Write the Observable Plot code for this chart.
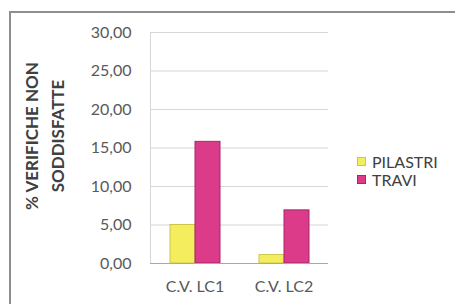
<!DOCTYPE html>
<html>
<head>
<meta charset="utf-8">
<script src="https://cdn.jsdelivr.net/npm/d3@7"></script>
<script src="https://cdn.jsdelivr.net/npm/@observablehq/plot@0.6"></script>
<style>
  html, body { margin: 0; padding: 0; background: #ffffff; }
  #wrap { position: relative; width: 455px; height: 304px; overflow: hidden; font-family: Lato, "Open Sans", sans-serif; }
  #border { position: absolute; left: 9px; top: 11px; width: 470px; height: 320px; border: 2px solid #8e8e8e; box-sizing: border-box; }
  #chart { position: absolute; left: 0; top: 0; }
  #ytitle { position: absolute; left: 45px; top: 136px; transform: translate(-50%, -50%) rotate(-90deg); white-space: nowrap;
            font-weight: bold; font-size: 17px; line-height: 26px; text-align: center; color: #404040; }
  #legend { position: absolute; left: 357px; top: 152px; font-size: 16px; color: #404040; }
  .item { display: flex; align-items: center; height: 18px; }
  .sw { width: 9px; height: 9px; margin-right: 6px; box-sizing: border-box; }
</style>
</head>
<body>
<div id="wrap">
  <div id="border"></div>
  <div id="chart"></div>
  <div id="ytitle">% VERIFICHE NON<br>SODDISFATTE</div>
  <div id="legend"></div>
</div>
<script>
const categories = ["C.V. LC1", "C.V. LC2"];
const series = ["PILASTRI", "TRAVI"];
const pilastri = [5.0, 1.1];
const travi = [15.8, 6.9];
const yTicks = [0, 5, 10, 15, 20, 25, 30];
const fills = ["#f4ed5e", "#dc3b8a"];
const strokes = ["#cdc64c", "#a5266b"];

const data = categories.flatMap((c, i) => [
  {cat: c, serie: series[0], value: pilastri[i]},
  {cat: c, serie: series[1], value: travi[i]}
]);

const fmt = d => d.toFixed(2).replace(".", ",");

const chart = Plot.plot({
  width: 455,
  height: 304,
  marginLeft: 150,
  marginRight: 127,
  marginTop: 32,
  marginBottom: 41,
  style: {fontFamily: "Lato, 'Open Sans', sans-serif", fontSize: "16px", color: "#595959", background: "transparent"},
  fx: {domain: categories, padding: 0, label: null},
  x: {domain: series, paddingInner: 0, paddingOuter: 0.745, axis: null},
  y: {domain: [0, 30], label: null},
  marks: [
    Plot.gridY(yTicks, {stroke: "#d6d6d6", strokeOpacity: 1}),
    Plot.frame({anchor: "left", fx: [categories[0]], stroke: "#d6d6d6"}),
    Plot.barY(data, {
      fx: "cat", x: "serie", y: "value",
      fill: d => fills[series.indexOf(d.serie)],
      stroke: d => strokes[series.indexOf(d.serie)],
      strokeWidth: 1
    }),
    Plot.ruleY([0], {stroke: "#a8a8a8"}),
    Plot.axisY(yTicks, {tickSize: 0, tickPadding: 19, tickFormat: fmt, fill: "#595959", label: null}),
    Plot.axisFx({anchor: "bottom", tickSize: 0, tickPadding: 17, fill: "#595959", label: null})
  ]
});
document.getElementById("chart").appendChild(chart);

const legend = document.getElementById("legend");
series.forEach((s, i) => {
  const item = document.createElement("div");
  item.className = "item";
  const sw = document.createElement("div");
  sw.className = "sw";
  sw.style.background = fills[i];
  sw.style.border = "1px solid " + strokes[i];
  const t = document.createElement("span");
  t.textContent = s;
  item.appendChild(sw);
  item.appendChild(t);
  legend.appendChild(item);
});
</script>
</body>
</html>
